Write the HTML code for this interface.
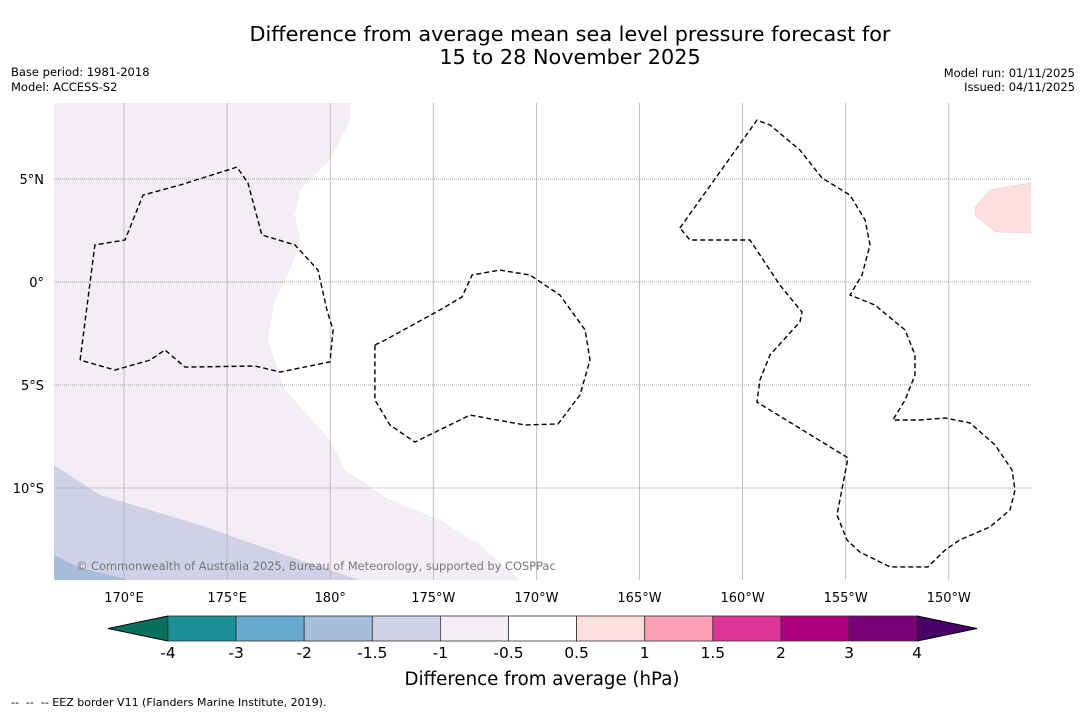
<!DOCTYPE html>
<html><head><meta charset="utf-8"><style>
body{margin:0;background:#fff;width:1085px;height:713px;overflow:hidden;font-family:"DejaVu Sans","Liberation Sans",sans-serif}
svg{display:block}
</style></head><body>
<svg id="chart" width="1085" height="713" xmlns="http://www.w3.org/2000/svg">
<text x="570" y="41" text-anchor="middle" font-size="20.8">Difference from average mean sea level pressure forecast for</text>
<text x="570" y="64" text-anchor="middle" font-size="20.8">15 to 28 November 2025</text>
<text x="11" y="76" font-size="11.5">Base period: 1981-2018</text>
<text x="11" y="91" font-size="11.5">Model: ACCESS-S2</text>
<text x="1075" y="77" font-size="11.5" text-anchor="end">Model run: 01/11/2025</text>
<text x="1075" y="91" font-size="11.5" text-anchor="end">Issued: 04/11/2025</text>
<g id="map"></g>
<g id="cbar"></g>
<text x="542" y="685" text-anchor="middle" font-size="18.2">Difference from average (hPa)</text>
<text x="11" y="706" font-size="11" xml:space="preserve">--  --  -- EEZ border V11 (Flanders Marine Institute, 2019).</text>
</svg>
<script>
const lonTicks=[170,175,180,185,190,195,200,205,210];
const lonLabels=["170°E","175°E","180°","175°W","170°W","165°W","160°W","155°W","150°W"];
const latTicks=[5,0,-5,-10];
const latLabels=["5°N","0°","5°S","10°S"];
const cbLevels=["-4","-3","-2","-1.5","-1","-0.5","0.5","1","1.5","2","3","4"];
const cbColors=["#1b9096","#67a9cf","#a6bddb","#d0d1e6","#f3edf6","#ffffff","#fde0dd","#fa9fb5","#dd3497","#ae017e","#7a0177"];
const purpleLon=[166.6,180.96,180.96,179.99,178.54,178.29,178.54,178.05,177.32,176.98,177.81,179.99,180.72,182.90,185.32,187.26,189.20,166.6];
const purpleLat=[8.69,8.69,7.86,5.92,4.47,3.25,2.04,0.58,-0.87,-2.82,-5.24,-7.67,-9.13,-10.58,-11.55,-12.77,-14.47,-14.47];
const blueLon=[166.6,168.84,173.69,178.54,181.45,166.6];
const blueLat=[-8.88,-10.34,-11.80,-13.50,-14.47,-14.47];
const dblueLon=[166.6,167.87,170.29,166.6];
const dblueLat=[-13.25,-13.88,-14.47,-14.47];
const pinkLon=[211.27,212.0,213.99,213.99,212.24,211.27];
const pinkLat=[3.64,4.47,4.81,2.38,2.43,3.25];
const eez1Lon=[167.87,168.59,170.05,170.92,172.72,175.48,176.01,176.69,178.29,179.41,179.84,180.14,179.99,177.57,176.35,172.96,171.99,171.26,169.56,167.87];
const eez1Lat=[-3.79,1.80,2.04,4.22,4.71,5.58,4.81,2.28,1.80,0.58,-1.36,-2.33,-3.88,-4.37,-4.08,-4.13,-3.30,-3.79,-4.27,-3.79];
const eez2Lon=[182.17,182.66,185.32,186.39,186.88,188.23,189.69,191.14,192.36,192.60,192.11,191.05,189.45,186.78,184.11,182.90,182.17,182.17];
const eez2Lat=[-3.06,-2.82,-1.36,-0.73,0.34,0.58,0.34,-0.63,-2.33,-3.79,-5.49,-6.89,-6.94,-6.46,-7.77,-6.94,-5.73,-3.06];
const eez3Lon=[196.96,200.70,201.33,202.78,203.85,205.21,205.94,206.18,205.79,205.21,206.42,207.88,208.36,208.36,207.88,207.29,208.60,209.82,211.03,212.24,213.07,213.21,212.97,212.0,210.54,209.82,208.99,207.15,205.69,205.06,204.58,205.11,200.70,200.84,201.33,202.78,202.88,201.81,200.36,198.18,197.45,196.96];
const eez3Lat=[2.62,7.86,7.62,6.41,5.05,4.22,3.01,1.80,0.34,-0.63,-1.12,-2.33,-3.54,-4.51,-5.73,-6.70,-6.70,-6.60,-6.84,-7.91,-9.13,-10.10,-11.07,-11.89,-12.52,-13.01,-13.83,-13.83,-13.11,-12.52,-11.31,-8.54,-5.83,-4.76,-3.54,-1.94,-1.46,-0.15,2.04,2.04,2.04,2.62];

const X0=54,X1=1031,Y0=103,Y1=580;
const xs=lon=>124+(lon-170)*20.62;
const ys=lat=>282-lat*20.6;
const NS="http://www.w3.org/2000/svg";
const map=document.getElementById('map');
function mk(t,a,p){const e=document.createElementNS(NS,t);for(const k in a)e.setAttribute(k,a[k]);(p||map).appendChild(e);return e;}
function pts(lo,la){return lo.map((v,i)=>xs(v).toFixed(1)+","+ys(la[i]).toFixed(1)).join(" ");}
const defs=mk('defs',{});
const cp=mk('clipPath',{id:'mc'},defs);mk('rect',{x:X0,y:Y0,width:X1-X0,height:Y1-Y0},cp);
const g=mk('g',{'clip-path':'url(#mc)'});
let e;
e=mk('polygon',{points:pts(purpleLon,purpleLat),fill:'#f3edf6'},g);


e=mk('polygon',{points:pts(blueLon,blueLat),fill:'#d0d1e6'},g);


e=mk('polygon',{points:pts(dblueLon,dblueLat),fill:'#a6bddb'},g);


e=mk('polygon',{points:pts(pinkLon,pinkLat),fill:'#fde0dd',stroke:'#f0c8c4','stroke-width':0.5},g);


lonTicks.forEach((v,i)=>{
 const x=xs(v);
 const l=mk('line',{x1:x,x2:x,y1:Y0,y2:Y1,stroke:'#aaa','stroke-width':0.7},g);
 
 
 const t=mk('text',{x:x,y:602,'text-anchor':'middle','font-size':13});t.textContent=lonLabels[i];
 
 
});
latTicks.forEach((v,i)=>{
 const y=ys(v);
 const l=mk('line',{x1:X0,x2:X1,y1:y,y2:y,stroke:'#888','stroke-width':0.7,'stroke-dasharray':'1,1'},g);
 
 
 const t=mk('text',{x:44,y:y+5,'text-anchor':'end','font-size':13});t.textContent=latLabels[i];
 
 
});
[[eez1Lon,eez1Lat,'eez-tuvalu'],[eez2Lon,eez2Lat,'eez-phoenix'],[eez3Lon,eez3Lat,'eez-line-islands']].forEach(d=>{
 const p=mk('polyline',{points:pts(d[0],d[1]),fill:'none',stroke:'#000','stroke-width':1.4,'stroke-dasharray':'5,3'},g);
 
 
});
const c=mk('text',{x:76,y:570,'font-size':11.4,fill:'#777'},g);
c.textContent='© Commonwealth of Australia 2025, Bureau of Meteorology, supported by COSPPac';



const cb=document.getElementById('cbar');
const cbX0=168,cbW=68.1,cbY=616,cbH=25;
let t=mk('polygon',{points:`${cbX0},${cbY} 108,${cbY+cbH/2} ${cbX0},${cbY+cbH}`,fill:'#08705f',stroke:'#000','stroke-width':1},cb);


const xe=cbX0+cbW*cbColors.length;
t=mk('polygon',{points:`${xe},${cbY} 977,${cbY+cbH/2} ${xe},${cbY+cbH}`,fill:'#49006a',stroke:'#000','stroke-width':1},cb);


cbColors.forEach((col,i)=>{
 const r=mk('rect',{x:cbX0+i*cbW,y:cbY,width:cbW,height:cbH,fill:col,stroke:'#333','stroke-width':0.8},cb);
 
 
});
cbLevels.forEach((s,i)=>{
 const tx=mk('text',{x:cbX0+i*cbW,y:658,'text-anchor':'middle','font-size':15.5},cb);tx.textContent=s;
 
 
});
</script>
</body></html>
